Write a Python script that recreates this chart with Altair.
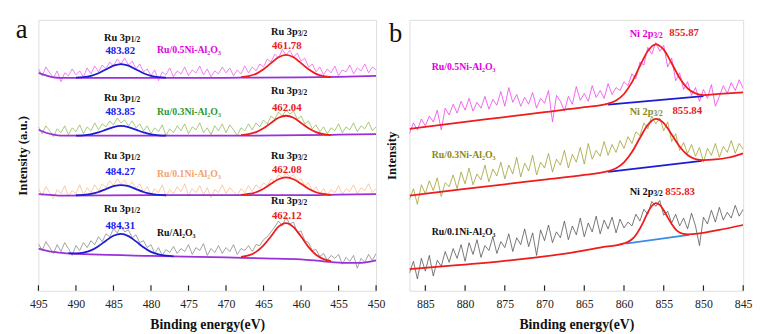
import altair as alt
import numpy as np
import pandas as pd

# ---------------- panel a : Ru 3p region (values in plot units, 0 = bottom, 276 = top) ----------------
E_a = np.round(np.arange(495.0, 449.75, -0.5), 1)

ru05_a = [226,219,228,222,217,224,213,222,219,226,
          220,224,218,227,221,229,223,230,226,233,
          229,236,231,237,230,234,226,231,223,226,
          219,225,214,223,220,227,218,224,221,228,
          219,225,222,229,220,226,218,224,221,228,
          222,227,219,225,221,229,222,228,224,231,
          228,236,233,241,237,246,240,245,238,242,
          234,237,228,231,223,228,220,226,222,229,
          219,225,223,230,221,227,224,231,222,228,
          225]
ru03_a = [167,160,168,163,157,165,161,168,159,166,
          162,169,160,167,163,171,164,170,167,173,
          169,176,171,174,168,173,166,170,163,168,
          160,166,162,169,158,165,161,168,163,170,
          160,167,164,171,161,166,159,168,163,170,
          161,169,164,158,166,163,170,164,171,167,
          174,170,178,175,182,178,184,180,183,175,
          178,170,173,165,169,162,167,160,166,163,
          170,161,167,164,171,162,168,165,172,163,
          167]
ru01_a = [104,97,106,100,94,103,99,107,96,102,
          99,108,98,105,100,108,102,109,105,112,
          107,114,109,113,106,111,104,109,101,106,
          98,104,100,108,96,103,99,106,101,109,
          97,104,100,107,98,105,95,103,100,108,
          99,105,101,97,104,100,107,101,108,104,
          110,107,114,111,118,115,120,116,118,112,
          114,107,110,102,106,99,104,97,103,100,
          107,98,104,101,108,99,105,102,109,100,
          104]
ru00_a = [48,41,50,44,38,47,40,49,43,36,
          46,41,49,44,51,47,55,50,58,55,
          63,59,66,60,62,54,57,49,51,44,
          47,38,44,36,42,39,45,38,43,40,
          47,37,44,41,48,36,43,39,46,38,
          44,40,47,37,43,41,46,40,47,46,
          52,55,60,65,71,66,75,68,70,59,
          61,51,49,41,42,35,38,31,36,33,
          37,27,34,30,36,23,33,29,37,31,
          38]

# fitted components, panel a
bgE_a = [495, 494, 493, 492, 480, 470, 460, 455, 450]
bg05_a = [222, 219.5, 217.5, 217, 217, 217, 217.5, 218, 219]
bg03_a = [164, 161, 159, 158, 158, 158, 158.5, 159, 159.5]
bg01_a = [98.5, 98, 97.5, 97, 97.5, 97.5, 97.5, 98, 98.5]
bgE00_a = [495, 493, 491, 488, 480, 470, 465, 460, 457, 454, 452, 450]
bg00_a = [43, 39.5, 38, 37, 35.5, 34, 33, 32, 30, 28.5, 28.5, 31]

p12E = [490, 489, 488, 487, 486, 485, 484, 483, 482, 481, 480, 479, 478]
p32E = [468, 467, 466, 465, 464, 463, 462, 461, 460, 459, 458, 457, 456]
p12_05 = [217.2, 217.6, 218.9, 221.6, 225.5, 229.3, 231, 229.3, 225.5, 221.6, 218.9, 217.6, 217.2]
p32_05 = [217.7, 218.7, 221, 225.6, 231.9, 237.8, 240.3, 237.8, 231.9, 225.6, 221, 218.7, 217.7]
p12_03 = [158.1, 158.4, 159.4, 161.3, 164.1, 166.8, 168, 166.8, 164.1, 161.3, 159.4, 158.4, 158.1]
p32_03 = [158.6, 159.5, 161.6, 165.5, 171, 176.2, 178.3, 176.2, 171, 165.5, 161.6, 159.5, 158.6]
p12_01 = [97.3, 97.7, 98.6, 100.6, 103.6, 106.5, 107.7, 106.5, 103.6, 100.6, 98.6, 97.7, 97.3]
p32_01 = [97.8, 98.6, 100.4, 104, 108.9, 113.6, 115.5, 113.6, 108.9, 104, 100.4, 98.6, 97.8]
p12E_00 = [491, 490, 489, 488, 487, 486, 485, 484, 483, 482, 481, 480, 479, 478, 477]
p12_00 = [38.1, 38.2, 38.9, 41.1, 45.4, 51, 56, 58, 55.7, 50.3, 44.4, 39.6, 37, 35.7, 35.1]
p32_00 = [34.6, 36, 39.6, 46.2, 55.6, 65.3, 69, 64.9, 55.2, 44.5, 36.7, 32.2, 30.1]

# ---------------- panel b : Ni 2p region ----------------
E_b = np.round(np.arange(887.0, 844.75, -0.5), 1)

ni05_b = [160,171,164,175,168,178,172,184,164,186,
          179,190,181,193,184,196,183,192,186,198,
          185,195,189,203,188,207,192,200,188,197,
          190,202,186,196,191,204,172,199,193,183,
          198,190,208,194,201,193,209,197,204,196,
          211,200,207,204,213,209,221,216,233,230,
          248,241,253,244,250,228,237,214,222,205,
          213,199,207,193,205,196,210,188,198,209,
          201,212,204,215,206]
ni03_b = [93,104,88,108,99,112,102,115,96,110,
          106,118,104,121,109,125,108,119,113,128,
          111,124,117,131,114,128,119,136,116,130,
          122,138,118,131,125,140,121,134,128,143,
          125,139,131,146,129,150,134,143,137,152,
          138,149,141,153,145,157,150,162,158,171,
          165,178,170,176,163,172,152,160,143,151,
          140,149,137,146,131,145,138,150,136,147,
          141,153,140,150,144]
ni01_b = [18,30,12,33,20,36,15,31,25,40,
          29,43,33,47,30,49,37,52,34,46,
          41,55,38,50,44,58,40,54,47,63,
          45,59,36,62,51,67,49,60,54,71,
          52,66,57,74,55,69,60,76,58,72,
          63,75,59,73,64,70,66,78,71,83,
          78,91,86,92,77,81,69,78,66,74,
          63,79,66,46,75,68,82,70,85,72,
          80,74,87,76,83]

envE05_b = [887, 880, 875, 870, 865, 862, 861, 860, 859, 858, 857, 856, 855, 854, 853, 852, 851, 850, 848, 845]
env05_b = [165, 172, 177, 182, 187, 190.7, 193.9, 200.5, 212.5, 228.9, 244.3, 251.1, 245.7, 231.8, 216.8, 206.3, 201.1, 199.4, 200.5, 202]
envE03_b = [887, 880, 875, 870, 865, 862, 861, 860, 859, 858, 857, 856, 855, 854, 853, 852, 851, 850, 848.5, 847, 846, 845]
env03_b = [97, 103.7, 108.5, 113.3, 118.1, 121.8, 124.8, 130.8, 141.3, 155.6, 169, 175.1, 170.9, 159.3, 147, 138.3, 134.2, 133.1, 133.8, 135.5, 137.5, 140]
envE01_b = [887, 881, 875, 869, 863, 860, 859.5, 859, 858.5, 858, 857.5, 857, 856.5, 856, 855.5, 855, 854.5, 854, 853.5, 853, 852.5, 852, 848, 845]
env01_b = [22, 26, 30.5, 36, 44, 48.3, 49.8, 52.5, 56.9, 63.3, 71.3, 79.8, 86.4, 89.3, 87.5, 82.1, 74.8, 67.9, 62.6, 59.4, 57.9, 57.4, 62, 67]
blE05_b, bl05_b = [862, 850], [189.7, 198.4]
blE03_b, bl03_b = [862, 850.2], [121, 132.2]
blE01_b, bl01_b = [859.8, 851.8], [48, 57]

ticks_a = [495, 490, 485, 480, 475, 470, 465, 460, 455, 450]
ticks_b = [885, 880, 875, 870, 865, 860, 855, 850, 845]

# colours
PURPLE = "#9b30d9"
BLUE = "#1c1cd6"
RED = "#ee1c1c"
LBLUE = "#3b8de6"
T_BLUE = "#2020ee"
T_RED = "#e82020"
T_MAG = "#e000e0"
T_GRN = "#2e9a2e"
T_ORG = "#f2a36e"
T_OLV = "#8a8a1a"
T_BLK = "#111111"
FONT = "Liberation Serif"


def frame_lines(items):
    rows = []
    for name, E, vals, col in items:
        for e, v in zip(E, vals):
            rows.append({"E": float(e), "v": float(v), "series": name, "c": col})
    return pd.DataFrame(rows)


noise_a = frame_lines([
    ("n05", E_a, ru05_a, "#f060f0"),
    ("n03", E_a, ru03_a, "#8fbc5a"),
    ("n01", E_a, ru01_a, "#f7bd8f"),
    ("n00", E_a, ru00_a, "#8a8a8a"),
])
fits_a = frame_lines([
    ("b05", bgE_a, bg05_a, PURPLE), ("b03", bgE_a, bg03_a, PURPLE),
    ("b01", bgE_a, bg01_a, PURPLE), ("b00", bgE00_a, bg00_a, PURPLE),
    ("s05", p12E, p12_05, BLUE), ("s03", p12E, p12_03, BLUE),
    ("s01", p12E, p12_01, BLUE), ("s00", p12E_00, p12_00, BLUE),
    ("r05", p32E, p32_05, RED), ("r03", p32E, p32_03, RED),
    ("r01", p32E, p32_01, RED), ("r00", p32E, p32_00, RED),
])
noise_b = frame_lines([
    ("n05", E_b, ni05_b, "#f040f0"),
    ("n03", E_b, ni03_b, "#a0a033"),
    ("n01", E_b, ni01_b, "#555555"),
])
fits_b = frame_lines([
    ("l05", blE05_b, bl05_b, BLUE), ("l03", blE03_b, bl03_b, BLUE), ("l01", blE01_b, bl01_b, LBLUE),
    ("e05", envE05_b, env05_b, RED), ("e03", envE03_b, env03_b, RED), ("e01", envE01_b, env01_b, RED),
])

# annotations: (E, v, text, colour, size)
ann_a_center = [
    (484.1, 244, "483.82", T_BLUE, 11), (484.1, 182, "483.85", T_BLUE, 11),
    (484.1, 121, "484.27", T_BLUE, 11), (484.1, 66, "484.31", T_BLUE, 11),
    (461.9, 249, "461.78", T_RED, 11), (461.9, 186, "462.04", T_RED, 11),
    (461.9, 123, "462.08", T_RED, 11), (461.9, 76, "462.12", T_RED, 11),
]
ann_a_right = [
    (482.7, 257, "Ru 3p", T_BLK, 10.5), (482.7, 196, "Ru 3p", T_BLK, 10.5),
    (482.7, 137, "Ru 3p", T_BLK, 10.5), (482.7, 83, "Ru 3p", T_BLK, 10.5),
    (460.45, 264, "Ru 3p", T_BLK, 10.5), (460.45, 203, "Ru 3p", T_BLK, 10.5),
    (460.45, 137, "Ru 3p", T_BLK, 10.5), (460.45, 91, "Ru 3p", T_BLK, 10.5),
]
ann_a_left = [
    (482.7, 255, "1/2", T_BLK, 7.5), (482.7, 194, "1/2", T_BLK, 7.5),
    (482.7, 135, "1/2", T_BLK, 7.5), (482.7, 81, "1/2", T_BLK, 7.5),
    (460.45, 262, "3/2", T_BLK, 7.5), (460.45, 201, "3/2", T_BLK, 7.5),
    (460.45, 135, "3/2", T_BLK, 7.5), (460.45, 89, "3/2", T_BLK, 7.5),
    (479.2, 245, "Ru/0.5Ni-Al₂O₃", T_MAG, 10), (479.2, 182, "Ru/0.3Ni-Al₂O₃", T_GRN, 10),
    (479.2, 119, "Ru/0.1Ni-Al₂O₃", T_ORG, 10), (479.2, 59, "Ru/Al₂O₃", T_BLK, 10),
]
ann_b_right = [
    (856.3, 262, "Ni 2p", T_MAG, 10.5), (856.3, 182, "Ni 2p", T_OLV, 10.5), (856.3, 101, "Ni 2p", T_BLK, 10.5),
]
ann_b_left = [
    (856.3, 260, "3/2", T_MAG, 7.5), (856.3, 180, "3/2", T_OLV, 7.5), (856.3, 99, "3/2", T_BLK, 7.5),
    (854.3, 263, "855.87", T_RED, 11), (853.9, 183, "855.84", T_RED, 11), (854.8, 101, "855.83", T_RED, 11),
    (884.2, 228, "Ru/0.5Ni-Al₂O₃", T_MAG, 10), (884.2, 138, "Ru/0.3Ni-Al₂O₃", T_OLV, 10),
    (884.2, 60, "Ru/0.1Ni-Al₂O₃", T_BLK, 10),
]


def ann_df(rows):
    return pd.DataFrame(rows, columns=["E", "v", "t", "c", "s"])


H = 276


def panel(noise, fits, centers, rights, lefts, domain, ticks, ytitle, ytpad, letter, letter_xy, width):
    xs = alt.Scale(domain=domain, reverse=True, nice=False, zero=False)
    ys = alt.Scale(domain=[0, H], nice=False, zero=False)
    xax = alt.Axis(values=ticks, format="d", labelFont=FONT, labelFontSize=12, labelColor="#222",
                   labelFlush=False, labelPadding=8, tickSize=0, domain=False, grid=False,
                   title="Binding energy(eV)", titleFont=FONT, titleFontSize=14, titleFontWeight="bold",
                   titleColor="#111", titlePadding=8)
    yax = alt.Axis(labels=False, ticks=False, domain=False, grid=False, title=ytitle,
                   titleFont=FONT, titleFontSize=13, titleFontWeight="bold", titleColor="#111",
                   titlePadding=ytpad)
    X = alt.X("E:Q", scale=xs, axis=xax)
    Y = alt.Y("v:Q", scale=ys, axis=yax)
    col = alt.Color("c:N", scale=None)

    noise_layer = alt.Chart(noise.assign(idx=range(len(noise)))).mark_line(strokeWidth=0.8, clip=True).encode(
        x=X, y=Y, color=col, detail="series:N", order="idx:Q")
    fit_layer = alt.Chart(fits.assign(idx=range(len(fits)))).mark_line(
        strokeWidth=1.8, interpolate="monotone", clip=True).encode(
        x=X, y=Y, color=col, detail="series:N", order="idx:Q")
    tick_layer = alt.Chart(pd.DataFrame({"E": ticks})).mark_rule(color="#222", strokeWidth=1.2).encode(
        x=X, y=alt.value(H - 5.5), y2=alt.value(H))
    layers = [noise_layer, fit_layer, tick_layer]
    for rows, al in ((centers, "center"), (rights, "right"), (lefts, "left")):
        if rows:
            layers.append(alt.Chart(ann_df(rows)).mark_text(
                align=al, baseline="middle", font=FONT, fontWeight="bold").encode(
                x=X, y=Y, text="t:N", color=col, size=alt.Size("s:Q", scale=None)))
    layers.append(alt.Chart(pd.DataFrame({"t": [letter]})).mark_text(
        align="center", baseline="alphabetic", font=FONT, fontSize=27, color="#111").encode(
        x=alt.value(letter_xy[0]), y=alt.value(letter_xy[1]), text="t:N"))
    return alt.layer(*layers).properties(width=width, height=H)


pa = panel(noise_a, fits_a, ann_a_center, ann_a_right, ann_a_left, [450, 495], ticks_a,
           "Intensity (a.u.)", 9, "a", (-17, 19), 344)
pb = panel(noise_b, fits_b, [], ann_b_right, ann_b_left, [845, 887], ticks_b,
           "Intensity", 11, "b", (-14, 23), 340)

chart = alt.hconcat(pa, pb, spacing=34, bounds="flush").properties(
    padding={"left": 7, "top": 5, "right": 0, "bottom": 0}
).configure_view(stroke="#222", strokeWidth=1.5).configure(background="white")

chart.save("out.html", embed_options={"renderer": "svg", "actions": False})
